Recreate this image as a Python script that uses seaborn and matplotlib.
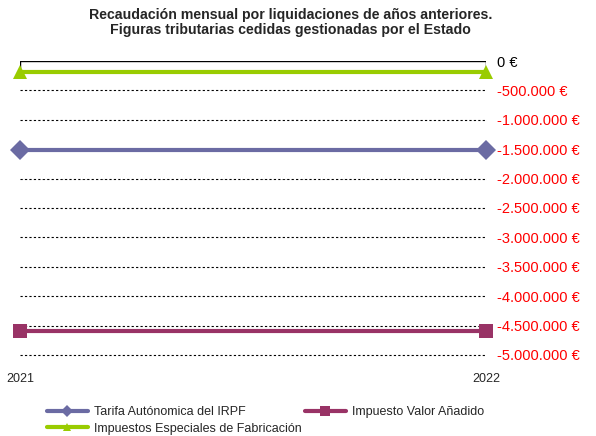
import pandas as pd
import matplotlib.pyplot as plt
import seaborn as sns
from matplotlib.lines import Line2D

# datos
years = ["2021", "2022"]
irpf = [-1510000, -1510000]
iva = [-4600000, -4600000]
iief = [-190000, -190000]
series = ["Tarifa Autónomica del IRPF", "Impuesto Valor Añadido",
          "Impuestos Especiales de Fabricación"]
yticks = [0, -500000, -1000000, -1500000, -2000000, -2500000, -3000000,
          -3500000, -4000000, -4500000, -5000000]

df = pd.DataFrame({
    "x": [0, 1] * 3,
    "valor": irpf + iva + iief,
    "serie": [series[0]] * 2 + [series[1]] * 2 + [series[2]] * 2,
})

sns.set_style("white")
plt.rcParams["font.family"] = ["Liberation Sans", "DejaVu Sans"]

fig = plt.figure(figsize=(5.96, 4.36), dpi=100)
ax = fig.add_axes([0.034, 0.186, 0.782, 0.674])

colores = {series[0]: "#6B6BA3", series[1]: "#993366", series[2]: "#99CC00"}
marcas = {series[0]: "D", series[1]: "s", series[2]: "^"}
sns.lineplot(data=df, x="x", y="valor", hue="serie", style="serie",
             palette=colores, markers=marcas, dashes=False, linewidth=3,
             markersize=10, markeredgewidth=0, ax=ax, legend=False, clip_on=False)

for y in yticks[1:]:
    ax.axhline(y, color="black", linestyle=(0, (2, 2)), linewidth=0.8,
               zorder=0, clip_on=False)
ax.axhline(0, color="black", linewidth=1, zorder=1)
for xv in [0, 1]:
    ax.plot([xv, xv], [0, -120000], color="black", linewidth=1, zorder=1)

ax.set_xlim(0, 1)
ax.set_ylim(-5000000, 0)
for s in ax.spines.values():
    s.set_visible(False)

ax.set_xticks([0, 1])
ax.set_xticklabels(years, fontsize=9)
ax.tick_params(axis="x", length=0, pad=13)

ax.yaxis.tick_right()
ax.set_yticks(yticks)
etiquetas = []
for v in yticks:
    if v == 0:
        etiquetas.append("0 €")
    else:
        etiquetas.append("{:,.0f} €".format(v).replace(",", "."))
ax.set_yticklabels(etiquetas, fontsize=10.5)
ax.tick_params(axis="y", length=0, pad=8)
for lab, v in zip(ax.get_yticklabels(), yticks):
    lab.set_color("black" if v == 0 else "red")
ax.set_xlabel("")
ax.set_ylabel("")

fig.text(0.487, 0.948, "Recaudación mensual por liquidaciones de años anteriores.\n"
         "Figuras tributarias cedidas gestionadas por el Estado",
         ha="center", va="center", fontsize=10.2, fontweight="bold", linespacing=1.15)

orden = [series[0], series[2], series[1]]
handles = [Line2D([], [], color=colores[s], marker=marcas[s], linewidth=3,
                  markersize=6 if s != series[1] else 7, markeredgewidth=0)
           for s in orden]
fig.legend(handles, orden, loc="upper left", bbox_to_anchor=(0.068, 0.082),
           ncol=2, frameon=False, fontsize=9, handlelength=3.3,
           columnspacing=0.2, handletextpad=0.5, borderpad=0, labelspacing=0.35)

fig.savefig("out.png", dpi=100)
